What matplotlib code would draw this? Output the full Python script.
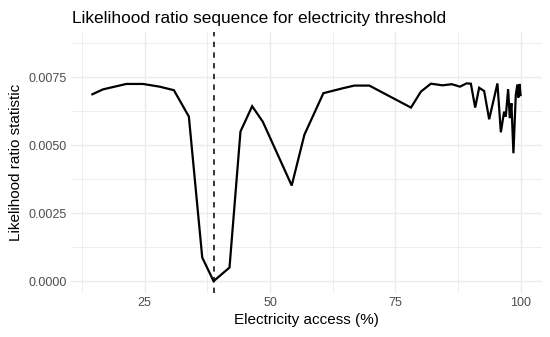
import matplotlib
matplotlib.use("Agg")
import matplotlib.pyplot as plt
import numpy as np

plt.rcParams['font.family'] = ['Liberation Sans', 'DejaVu Sans']

# Data
access = [14.58, 16.69, 21.35, 24.66, 27.99, 30.84, 33.82, 36.49, 38.75, 41.93,
          44.12, 46.45, 48.57, 54.34, 56.87, 60.66, 64.5, 66.83, 69.82, 78.13,
          80.12, 82.11, 84.42, 86.3, 87.9, 89.2, 90.08, 90.94, 91.73, 92.73,
          93.73, 95.38, 96.06, 96.71, 97.05, 97.51, 97.85, 98.17, 98.57, 99.04,
          99.36, 99.55, 99.8, 100.0]
lr_stat = [0.00688, 0.00706, 0.00726, 0.00726, 0.00716, 0.00703, 0.00606, 0.00087, 0.0, 0.0005,
           0.00551, 0.00644, 0.00587, 0.00352, 0.00539, 0.00692, 0.0071, 0.0072, 0.0072, 0.00639,
           0.00698, 0.00727, 0.00721, 0.00725, 0.00716, 0.00728, 0.00727, 0.00639, 0.00712, 0.007,
           0.00596, 0.00728, 0.00548, 0.00624, 0.00606, 0.00707, 0.006, 0.00655, 0.00471, 0.00685,
           0.00724, 0.00676, 0.00726, 0.00685]
threshold = 38.75
x_ticks = [25, 50, 75, 100]
y_ticks = [0.0, 0.0025, 0.005, 0.0075]

fig = plt.figure(figsize=(5.5, 3.37), dpi=100)
W, H = 550, 337
ax = fig.add_axes([71 / W, 1 - 293 / H, (542 - 71) / W, (293 - 32) / H])

xmin, xmax = min(access), max(access)
xr = xmax - xmin
ax.set_xlim(xmin - 0.05 * xr, xmax + 0.05 * xr)
ytop = max(lr_stat) * 1.2
ax.set_ylim(-0.05 * ytop, ytop * 1.05)

# grid
grid_c = '#EBEBEB'
for t in x_ticks:
    ax.axvline(t, color=grid_c, lw=1.0, zorder=0)
for t in [12.5, 37.5, 62.5, 87.5]:
    ax.axvline(t, color=grid_c, lw=0.6, zorder=0)
for t in y_ticks:
    ax.axhline(t, color=grid_c, lw=1.0, zorder=0)
for t in [0.00125, 0.00375, 0.00625, 0.00875]:
    ax.axhline(t, color=grid_c, lw=0.6, zorder=0)

ax.plot(access, lr_stat, color='black', lw=1.6, zorder=3, solid_joinstyle='miter')
ax.axvline(threshold, color='black', lw=1.1, ls=(0, (3.5, 3.5)), zorder=4)

for s in ax.spines.values():
    s.set_visible(False)
ax.set_xticks(x_ticks)
ax.set_xticklabels([str(t) for t in x_ticks])
ax.set_yticks(y_ticks)
ax.set_yticklabels([f"{t:.4f}" for t in y_ticks])
ax.tick_params(length=0, labelsize=9, colors='#4D4D4D', pad=3)
ax.set_xlabel('Electricity access (%)', fontsize=11, color='black', labelpad=3)
ax.set_ylabel('Likelihood ratio statistic', fontsize=11, color='black', labelpad=4)
fig.text(72 / W, 1 - 23 / H, 'Likelihood ratio sequence for electricity threshold',
         fontsize=12.4, color='black', ha='left', va='baseline')

fig.savefig('out.png', dpi=100)
